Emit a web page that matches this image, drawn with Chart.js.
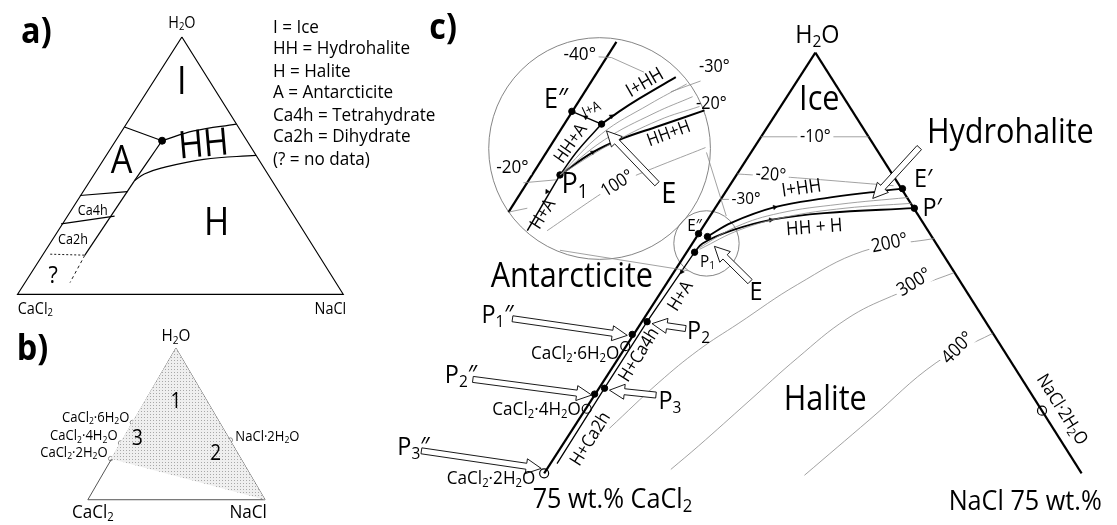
<!DOCTYPE html>
<html>
<head>
<meta charset="utf-8">
<script src="https://cdn.jsdelivr.net/npm/chart.js@4.4.1/dist/chart.umd.min.js"></script>
<style>
  html, body { margin: 0; padding: 0; background: #fff; }
  canvas { display: block; }
</style>
</head>
<body>
<canvas id="graph_ID" width="1117" height="525"></canvas>
<script>
var FONT = '"Open Sans", "DejaVu Sans", sans-serif';
var SX = 0.9; // text is drawn a bit condensed, the original font is narrow

// ---- panel a : ternary sketch
var triA = [[178,32],[12,295],[341,295],[178,32]];
var aIceA = [[120,124],[158,138]];
var aIceHH = [[158,138],[190,128],[233,121]];
var aAHH = [[158,138],[145,157],[130,179]];
var aHHH = [[130,179],[140,172],[157,166],[200,157],[253,153]];
var aHydr = [[130,179],[80,255]];
var aCa4h = [[75,194],[123,190]];
var aCa2h = [[56,223],[110,215]];
var aUnknownH = [[45,254],[80,255]];
var aUnknownV = [[80,255],[65,283]];
var aTriple = [[158,138]];

// ---- panel b : solid phases
var triB = [[172,350],[83,505],[262,505],[172,350]];
var bShade = [[172,350],[106,463],[262,505],[172,350]];
var bTie1 = [[128,426],[227,444]];
var bTie2 = [[128,426],[262,505]];
var bTie3 = [[116,447],[262,505]];
var bHydrates = [[128,426],[116,447],[106,463],[227,444]];

// ---- panel c : liquidus
var cLeft = [[818,48],[544,478]];
var cRight = [[818,48],[1087,478]];
var cSalt = [[696,252],[648,323],[605,391],[557,468]];
var cIHH = [[709,236],[733,222],[777,206],[827,197],[880,190],[906,187]];
var cHHH = [[696,252],[704,243],[733,230],[773,219],[827,212],[918,207]];
var cFan1 = [[700,248],[738,226],[782,212],[842,203],[912,196]];
var cFan2 = [[701,249],[742,229],[788,216],[848,207],[915,202]];
var c10 = [[763,134],[872,134]];
var c20 = [[739,172],[800,176],[897,184]];
var c30 = [[723,198],[735,198]];
var c200 = [[938,238],[866,251],[800,285],[740,325],[700,352],[660,385],[610,432]];
var c300 = [[958,273],[895,297],[850,320],[800,360],[750,405],[700,450],[672,474]];
var c400 = [[997,335],[940,365],[873,423],[807,480]];

// magnified inset
var bigCircle = [[600,146],[712,146]];
var smallCircle = [[708,243],[741,243]];
var conn1 = [[708,150],[728,215]];
var conn2 = [[560,250],[690,271]];
var inMain = [[617,37],[508,211]];
var inSalt = [[560,173],[527,230]];
var inHHA = [[560,173],[578,148],[602,121]];
var inIA = [[572,108],[602,121]];
var inIHH = [[602,121],[620,108],[640,95],[677,73]];
var inHHH = [[560,173],[593,150],[620,137],[660,123],[706,107]];
var inFan1 = [[560,173],[602,131],[650,101],[688,80]];
var inFan2 = [[560,173],[605,137],[655,110],[694,93]];
var inFan3 = [[560,173],[610,142],[660,117],[701,103]];
var inM40 = [[593,52],[612,53],[645,68]];
var inM30 = [[672,88],[702,77]];
var inM20 = [[523,181],[556,178]];
var in100 = [[547,230],[618,182],[707,145]];
var inBottom = [[508,211],[527,207]];

var cDots = [[700,233],[709,236],[696,252],[906,187],[918,207],[648,323],[633,336],[605,391],[595,397],
             [572,108],[602,121],[560,173]];
var cOpen = [[626,348],[587,412],[544,478],[1047,414]];

var flowMarks = [[777,206],[773,219],[683,272],[612,113],[593,150],[547,190],[586,114]];
var flowDir = [79,83,213,55,60,213,300];

var hollowArrows = [[512,320,628,337],[472,382,592,398],[420,455,541,473],[687,330,653,325],
                    [657,398,610,393],[752,282,716,246],[658,182,607,128],[923,145,876,197]];

// [text, x, y, size, rotation, align, flags]  (_x = subscript, b = bold, w = white box)
var labels = [
  ['a)',31,28,36,0,'c','b'], ['H_2O',178,18,16], ['I',178,79,38], ['HH',200,143,38,-5],
  ['A',117,160,38], ['H',213,223,38], ['Ca4h',88,210,14], ['Ca2h',68,240,14], ['?',48,276,24],
  ['CaCl_2',30,310,16], ['NaCl',328,310,16],
  ['I = Ice',270,22,19,0,'l'], ['HH = Hydrohalite',270,44,19,0,'l'], ['H = Halite',270,67,19,0,'l'],
  ['A = Antarcticite',270,89,19,0,'l'], ['Ca4h = Tetrahydrate',270,112,19,0,'l'],
  ['Ca2h = Dihydrate',270,134,19,0,'l'], ['(? = no data)',270,157,19,0,'l'],

  ['b)',27,352,36,0,'c','b'], ['H_2O',172,338,17], ['1',172,405,21], ['2',212,458,21], ['3',133,443,21],
  ['CaCl_2·6H_2O',125,421,14.5,0,'r'], ['CaCl_2·4H_2O',113,440,14.5,0,'r'], ['CaCl_2·2H_2O',103,457,14.5,0,'r'],
  ['NaCl·2H_2O',232,441,14.5,0,'l'], ['CaCl_2',88,518,19], ['NaCl',245,518,19],

  ['c)',442,24,36,0,'c','b'], ['H_2O',820,31,26], ['Ice',822,97,34], ['Hydrohalite',1015,130,34],
  ['-10°',818,134,18,0,'c','w'], ['-20°',773,173,18,4,'c','w'], ['-30°',748,198,17,0,'c','w'],
  ['I+HH',804,187,19,-8], ['HH + H',817,227,19,-4], ['E′',927,178,26], ['P′',936,207,26],
  ['E″',696,225,17], ['P_1',709,262,17], ['E',758,293,26],
  ['200°',893,243,19,-12,'c','w'], ['300°',918,283,19,-32,'c','w'], ['400°',962,350,19,-45,'c','w'],
  ['Halite',828,403,34], ['Antarcticite',572,278,34],
  ['H+A',682,297,18,-58], ['H+Ca4h',640,357,18,-58], ['H+Ca2h',591,443,18,-58],
  ['P_1″',497,317,26], ['P_2',700,333,26], ['CaCl_2·6H_2O',620,356,19,0,'r'],
  ['P_2″',460,378,26], ['P_3',671,405,26], ['CaCl_2·4H_2O',581,413,19,0,'r'],
  ['P_3″',412,452,26], ['CaCl_2·2H_2O',535,483,19,0,'r'],
  ['75 wt.% CaCl_2',613,505,28], ['NaCl 75 wt.%',1030,507,28], ['NaCl·2H_2O',1067,413,18,58],

  ['-40°',580,50,19,0,'c','w'], ['-30°',716,63,18], ['-20°',713,100,18], ['E″',556,96,28],
  ['I+A',592,106,14,-25], ['I+HH',646,79,19,-30], ['HH+H',670,131,18,-20], ['HH+A',571,141,18,-55],
  ['-20°',512,165,19,0,'c','w'], ['P_1',575,183,30], ['100°',618,182,18,-32,'c','w'], ['E',670,193,30],
  ['H+A',543,213,18,-58]
];

function pts(a) { return a.map(function (p) { return {x: p[0], y: p[1]}; }); }

function path(a, color, width, extra) {
  var d = {data: pts(a), showLine: true, borderColor: color, borderWidth: width,
           pointRadius: 0, tension: 0, fill: false, clip: false};
  return Object.assign(d, extra || {});
}

// stipple for panel b
var pc = document.createElement('canvas');
pc.width = 3; pc.height = 3;
var pctx = pc.getContext('2d');
pctx.fillStyle = '#efefef'; pctx.fillRect(0, 0, 3, 3);
pctx.fillStyle = '#a8a8a8'; pctx.fillRect(0, 0, 1, 1);
var stipple = pctx.createPattern(pc, 'repeat');

var GRAY = '#8a8a8a';
var datasets = [
  path(bShade, 'rgba(0,0,0,0)', 0, {fill: 'shape', backgroundColor: stipple}),
  path(triB, '#555', 1),
  path(bTie1, '#666', 0.9, {borderDash: [3, 2]}),
  path(bTie2, '#666', 0.9, {borderDash: [3, 2]}),
  path(bTie3, '#666', 0.9, {borderDash: [3, 2]}),

  path(triA, '#000', 1.2),
  path(aIceA, '#000', 1.2), path(aIceHH, '#000', 1.2, {tension: 0.4}),
  path(aAHH, '#000', 1.2, {tension: 0.4}), path(aHHH, '#000', 1.2, {tension: 0.4}),
  path(aHydr, '#000', 1.2), path(aCa4h, '#000', 1.2), path(aCa2h, '#000', 1.2),
  path(aUnknownH, '#000', 0.9, {borderDash: [2, 2]}), path(aUnknownV, '#000', 0.9, {borderDash: [3, 3]}),

  path(c10, GRAY, 0.8), path(c20, GRAY, 0.8, {tension: 0.3}), path(c30, GRAY, 0.8),
  path(c200, GRAY, 0.8, {tension: 0.4}), path(c300, GRAY, 0.8, {tension: 0.4}), path(c400, GRAY, 0.8, {tension: 0.4}),
  path(cFan1, GRAY, 0.8, {tension: 0.4}), path(cFan2, GRAY, 0.8, {tension: 0.4}),
  path(conn1, GRAY, 0.8), path(conn2, GRAY, 0.8),
  path(inFan1, GRAY, 0.8, {tension: 0.4}), path(inFan2, GRAY, 0.8, {tension: 0.4}), path(inFan3, GRAY, 0.8, {tension: 0.4}),
  path(inM40, GRAY, 0.8), path(inM30, GRAY, 0.8), path(inM20, GRAY, 0.8), path(in100, GRAY, 0.8, {tension: 0.2}),
  path(inBottom, GRAY, 0.8),

  path(cLeft, '#000', 2.2), path(cRight, '#000', 2.2), path(cSalt, '#000', 1.3),
  path(cIHH, '#000', 1.8, {tension: 0.4}), path(cHHH, '#000', 1.8, {tension: 0.4}),
  path(inMain, '#000', 2.2), path(inSalt, '#000', 1.5), path(inHHA, '#000', 1.5, {tension: 0.4}),
  path(inIA, '#000', 1.3), path(inIHH, '#000', 2, {tension: 0.3}), path(inHHH, '#000', 2, {tension: 0.4}),

  {data: pts(aTriple), pointRadius: 3.5, pointBackgroundColor: '#000', pointBorderColor: '#000', clip: false},
  {data: pts(bHydrates), pointRadius: 2.2, pointBackgroundColor: '#fff', pointBorderColor: '#777', pointBorderWidth: 0.8, clip: false},
  {data: pts(cDots), pointRadius: 3.2, pointBackgroundColor: '#000', pointBorderColor: '#000', clip: false},
  {data: pts(cOpen), pointRadius: 4.5, pointBackgroundColor: '#fff', pointBorderColor: '#000', pointBorderWidth: 1.2, clip: false},
  {data: pts(flowMarks), pointStyle: 'triangle', pointRadius: 2.6, pointBackgroundColor: '#000', pointBorderColor: '#000',
   pointBorderWidth: 0.5, clip: false, pointRotation: function (ctx) { return flowDir[ctx.dataIndex]; }}
];

function segs(t) {
  var out = [];
  for (var i = 0; i < t.length; i++) {
    var c = t[i];
    if (c === '_' && i + 1 < t.length) { out.push({s: t[i + 1], sub: true}); i++; }
    else if (out.length && !out[out.length - 1].sub) out[out.length - 1].s += c;
    else out.push({s: c, sub: false});
  }
  return out;
}

function drawLabel(ctx, chart, L) {
  var sx = chart.scales.x, sy = chart.scales.y;
  var size = L[3], rot = L[4] || 0, align = L[5] || 'c', flags = L[6] || '';
  var weight = flags.indexOf('b') >= 0 ? '700 ' : '400 ';
  var parts = segs(L[0]);
  ctx.save();
  ctx.translate(sx.getPixelForValue(L[1]), sy.getPixelForValue(L[2]));
  ctx.rotate(rot * Math.PI / 180);
  ctx.scale(SX, 1);
  ctx.textBaseline = 'middle';
  ctx.textAlign = 'left';
  var w = 0;
  parts.forEach(function (p) {
    ctx.font = weight + (p.sub ? size * 0.66 : size) + 'px ' + FONT;
    p.w = ctx.measureText(p.s).width;
    w += p.w;
  });
  var x0 = align === 'l' ? 0 : (align === 'r' ? -w : -w / 2);
  if (flags.indexOf('w') >= 0) {
    ctx.fillStyle = '#fff';
    ctx.fillRect(x0 - 3, -size * 0.42, w + 6, size * 0.84);
  }
  ctx.fillStyle = '#000';
  parts.forEach(function (p) {
    ctx.font = weight + (p.sub ? size * 0.66 : size) + 'px ' + FONT;
    ctx.fillText(p.s, x0, p.sub ? size * 0.25 : 0);
    x0 += p.w;
  });
  ctx.restore();
}

function drawHollowArrow(ctx, x1, y1, x2, y2) {
  var dx = x2 - x1, dy = y2 - y1, len = Math.hypot(dx, dy);
  var ux = dx / len, uy = dy / len, nx = -uy, ny = ux;
  var sw = 3, hl = 15, hw = 7.5;
  var bx = x2 - ux * hl, by = y2 - uy * hl;
  ctx.beginPath();
  ctx.moveTo(x1 + nx * sw, y1 + ny * sw);
  ctx.lineTo(bx + nx * sw, by + ny * sw);
  ctx.lineTo(bx + nx * hw, by + ny * hw);
  ctx.lineTo(x2, y2);
  ctx.lineTo(bx - nx * hw, by - ny * hw);
  ctx.lineTo(bx - nx * sw, by - ny * sw);
  ctx.lineTo(x1 - nx * sw, y1 - ny * sw);
  ctx.closePath();
  ctx.fillStyle = '#fff';
  ctx.fill();
  ctx.strokeStyle = '#000';
  ctx.lineWidth = 0.9;
  ctx.stroke();
}

var drawing = {
  id: 'drawing',
  beforeDatasetsDraw: function (chart) {
    var ctx = chart.ctx, sx = chart.scales.x, sy = chart.scales.y;
    [bigCircle, smallCircle].forEach(function (c) {
      var cx = sx.getPixelForValue(c[0][0]), cy = sy.getPixelForValue(c[0][1]);
      var r = Math.hypot(sx.getPixelForValue(c[1][0]) - cx, sy.getPixelForValue(c[1][1]) - cy);
      ctx.save();
      ctx.beginPath();
      ctx.arc(cx, cy, r, 0, Math.PI * 2);
      ctx.strokeStyle = '#777';
      ctx.lineWidth = 0.9;
      ctx.stroke();
      ctx.restore();
    });
  },
  afterDatasetsDraw: function (chart) {
    var ctx = chart.ctx, sx = chart.scales.x, sy = chart.scales.y;
    ctx.save();
    hollowArrows.forEach(function (a) {
      drawHollowArrow(ctx, sx.getPixelForValue(a[0]), sy.getPixelForValue(a[1]),
                      sx.getPixelForValue(a[2]), sy.getPixelForValue(a[3]));
    });
    ctx.restore();
    labels.forEach(function (L) { drawLabel(ctx, chart, L); });
  }
};

var graphique = new Chart(document.getElementById('graph_ID').getContext('2d'), {
  type: 'scatter',
  data: {datasets: datasets},
  options: {
    responsive: false,
    animation: false,
    events: [],
    layout: {padding: 0},
    plugins: {legend: {display: false}, tooltip: {enabled: false}},
    scales: {
      x: {type: 'linear', min: 0, max: 1117, display: false},
      y: {type: 'linear', min: 0, max: 525, reverse: true, display: false}
    }
  },
  plugins: [drawing]
});
</script>
</body>
</html>
